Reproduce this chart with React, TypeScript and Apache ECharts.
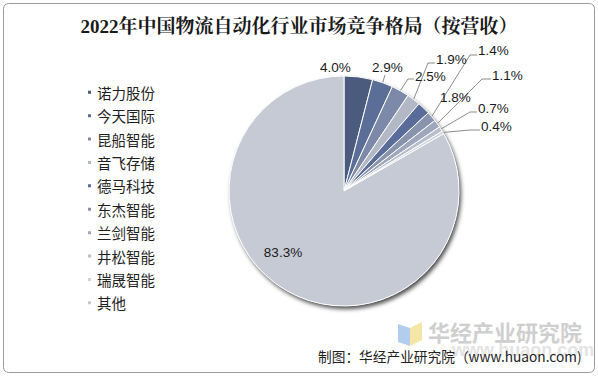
import React, { useEffect, useRef } from "react";
import * as echarts from "echarts";

const categories = ["诺力股份", "今天国际", "昆船智能", "音飞存储", "德马科技", "东杰智能", "兰剑智能", "井松智能", "瑞晟智能", "其他"];
const shares = [4.0, 2.9, 2.5, 1.9, 1.8, 1.4, 1.1, 0.7, 0.4, 83.3];
const sliceColors = ["#4b5b7e", "#5a6e98", "#7c89a8", "#b3b8c6", "#5a6c9a", "#8893ae", "#9ea7bc", "#b8beca", "#cfd3dc", "#c6cad5"];
const titleText = "2022年中国物流自动化行业市场竞争格局（按营收）";
const sourceText = "制图：华经产业研究院（www.huaon.com)";

// label anchor (x, y) and optional leader elbow / end points
const labelSpots: { x: number; y: number; align?: string; line?: number[][] }[] = [
  { x: 320, y: 67 },
  { x: 372, y: 67, line: [[385, 75], [385, 75]] },
  { x: 415, y: 76, line: [[408, 79], [414, 79]] },
  { x: 436, y: 59, line: [[428, 63], [435, 63]] },
  { x: 440, y: 97 },
  { x: 478, y: 50, line: [[470, 55], [477, 55]] },
  { x: 492, y: 75, line: [[482, 79], [491, 79]] },
  { x: 478, y: 108, line: [[470, 112], [477, 112]] },
  { x: 481, y: 126, line: [[470, 130], [480, 130]] },
  { x: 283, y: 252, align: "center" },
];

export default function App() {
  const ref = useRef<HTMLDivElement>(null);
  useEffect(() => {
    if (!ref.current) return;
    const chart = echarts.init(ref.current, undefined, { renderer: "svg" });
    const data = categories.map((name, i) => ({
      name,
      value: shares[i],
      labelLine: { show: !!labelSpots[i].line },
    }));
    chart.setOption({
      animation: false,
      backgroundColor: "#ffffff",
      color: sliceColors,
      title: {
        text: titleText,
        left: "center",
        top: 12,
        textStyle: {
          fontSize: 19,
          fontWeight: "bold",
          color: "#1a1a1a",
          fontFamily: "'Liberation Serif', 'Noto Serif CJK SC', 'Noto Sans CJK SC', serif",
        },
      },
      legend: {
        data: categories,
        orient: "vertical",
        left: 81,
        top: 80,
        itemWidth: 5,
        itemHeight: 5,
        itemGap: 8.9,
        icon: "rect",
        textStyle: { fontSize: 14.5, color: "#1e1e1e", fontFamily: "'Noto Sans CJK SC', sans-serif" },
        selectedMode: false,
      },
      graphic: [
        {
          type: "rect",
          shape: { x: 3.5, y: 3.5, width: 591, height: 369, r: 5 },
          style: { fill: "none", stroke: "#9c9c9c", lineWidth: 1 },
          z: 0,
        },
        {
          type: "polygon",
          shape: { points: [[398, 324], [410, 328], [410, 346], [398, 342]] },
          style: { fill: "#b3cdef" },
          z: 0,
        },
        {
          type: "polygon",
          shape: { points: [[410, 328], [422, 322], [422, 340], [410, 346]] },
          style: { fill: "#f4e6a6" },
          z: 0,
        },
        {
          type: "text",
          x: 428,
          y: 331,
          style: {
            text: "华经产业研究院",
            fill: "#cfcfcf",
            fontSize: 22,
            fontWeight: "bold",
            fontFamily: "'Noto Sans CJK SC', sans-serif",
            verticalAlign: "middle",
          },
          z: 0,
        },
        {
          type: "text",
          x: 452,
          y: 350,
          style: {
            text: "www.huaon.com",
            fill: "#e4e4e4",
            fontSize: 18,
            fontWeight: "bold",
            fontFamily: "'Liberation Sans', sans-serif",
            verticalAlign: "middle",
          },
          z: 0,
        },
        {
          type: "text",
          x: 318,
          y: 356,
          style: {
            text: sourceText,
            fill: "#222",
            fontSize: 13.7,
            fontFamily: "'Noto Sans CJK SC', sans-serif",
            verticalAlign: "middle",
          },
          z: 10,
        },
      ],
      series: [
        {
          type: "pie",
          name: "shadow",
          silent: true,
          center: [344, 191],
          radius: 115,
          startAngle: 90,
          label: { show: false },
          labelLine: { show: false },
          data: [{ value: 1, name: "_bg" }],
          itemStyle: {
            color: "#c6cad5",
            shadowColor: "rgba(0,0,0,0.7)",
            shadowBlur: 4,
            shadowOffsetX: 2,
            shadowOffsetY: 3,
          },
          z: 1,
        },
        {
          type: "pie",
          name: "share",
          center: [344, 191],
          radius: 115,
          startAngle: 90,
          clockwise: true,
          avoidLabelOverlap: false,
          itemStyle: { borderColor: "#ffffff", borderWidth: 1 },
          label: {
            show: true,
            formatter: (p: any) => p.value.toFixed(1) + "%",
            fontSize: 13.5,
            color: "#1a1a1a",
            fontFamily: "'Liberation Sans', Arial, sans-serif",
          },
          labelLine: { show: true, lineStyle: { color: "#8c8c8c", width: 1 } },
          labelLayout: (params: any) => {
            const spot = labelSpots[params.dataIndex];
            const res: any = {
              x: spot.x,
              y: spot.y,
              align: spot.align || "left",
              verticalAlign: "middle",
            };
            if (spot.line && params.labelLinePoints) {
              const p0 = params.labelLinePoints[0];
              res.labelLinePoints = [p0, spot.line[0], spot.line[1]];
            }
            return res;
          },
          data,
          z: 2,
        },
      ],
    });
    return () => chart.dispose();
  }, []);
  return (
    <div
      ref={ref}
      style={{ position: "fixed", left: 0, top: 0, width: 598, height: 377 }}
    />
  );
}
